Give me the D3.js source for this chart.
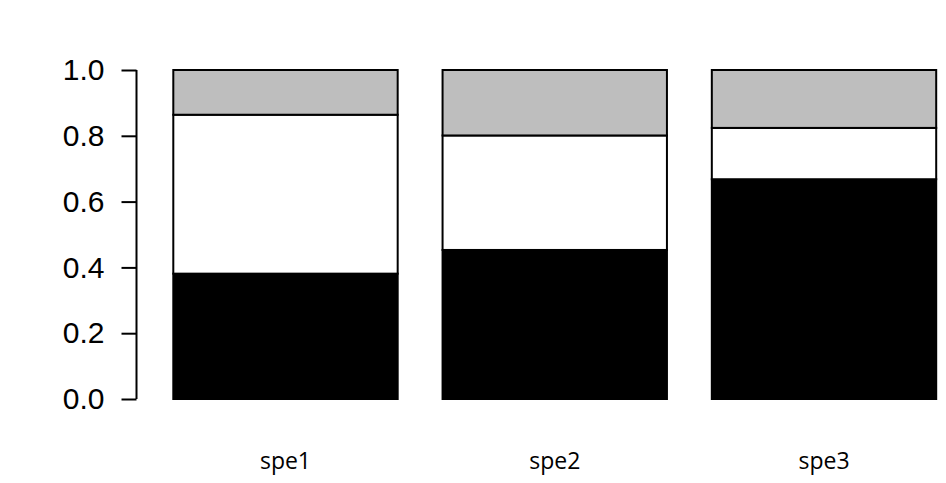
<!DOCTYPE html>
<html>
<head>
<meta charset="utf-8">
<script src="https://cdn.jsdelivr.net/npm/d3@7"></script>
<style>
  html, body { margin: 0; padding: 0; background: #fff; }
  svg { display: block; }
</style>
</head>
<body>
<div id="chart"></div>
<script>
const species = ['spe1', 'spe2', 'spe3'];
const blackShare = [0.381, 0.453, 0.668];
const whiteShare = [0.483, 0.348, 0.156];
const grayShare  = [0.136, 0.199, 0.176];
const yTicks = [0, 0.2, 0.4, 0.6, 0.8, 1.0];

const layers = ['black', 'white', 'gray'];
const fills = { black: '#000000', white: '#ffffff', gray: '#bebebe' };

const rows = species.map((s, i) => ({
  name: s, black: blackShare[i], white: whiteShare[i], gray: grayShare[i]
}));

const W = 946, H = 483;
const svg = d3.select('#chart').append('svg')
  .attr('width', W).attr('height', H);

const x = d3.scaleBand()
  .domain(species)
  .range([173.3, 936.2])
  .paddingInner(0.2 / 1.2)
  .paddingOuter(0);

const y = d3.scaleLinear()
  .domain([0, 1])
  .range([399, 70]);

const stacked = d3.stack().keys(layers)(rows);

svg.append('g')
  .selectAll('g')
  .data(stacked)
  .join('g')
  .attr('fill', d => fills[d.key])
  .selectAll('rect')
  .data(d => d)
  .join('rect')
  .attr('x', d => x(d.data.name))
  .attr('width', x.bandwidth())
  .attr('y', d => y(d[1]))
  .attr('height', d => y(d[0]) - y(d[1]))
  .attr('stroke', '#000')
  .attr('stroke-width', 2);

const yAxis = svg.append('g')
  .attr('transform', 'translate(136.5,0)')
  .call(d3.axisLeft(y).tickValues(yTicks).tickSize(15).tickPadding(17)
    .tickFormat(d3.format('.1f')));

yAxis.select('.domain')
  .attr('d', `M0,${y(0)}V${y(1)}`)
  .attr('stroke-width', 2);
yAxis.selectAll('.tick line').attr('stroke-width', 2);
yAxis.selectAll('.tick text')
  .attr('font-family', '"Liberation Sans", Arial, sans-serif')
  .attr('font-size', 30)
  .attr('fill', '#000');

svg.append('g')
  .selectAll('text')
  .data(species)
  .join('text')
  .attr('x', d => x(d) + x.bandwidth() / 2)
  .attr('y', 469)
  .attr('text-anchor', 'middle')
  .attr('font-family', '"Open Sans", "Noto Sans", sans-serif')
  .attr('font-size', 23)
  .attr('fill', '#000')
  .text(d => d);
</script>
</body>
</html>
